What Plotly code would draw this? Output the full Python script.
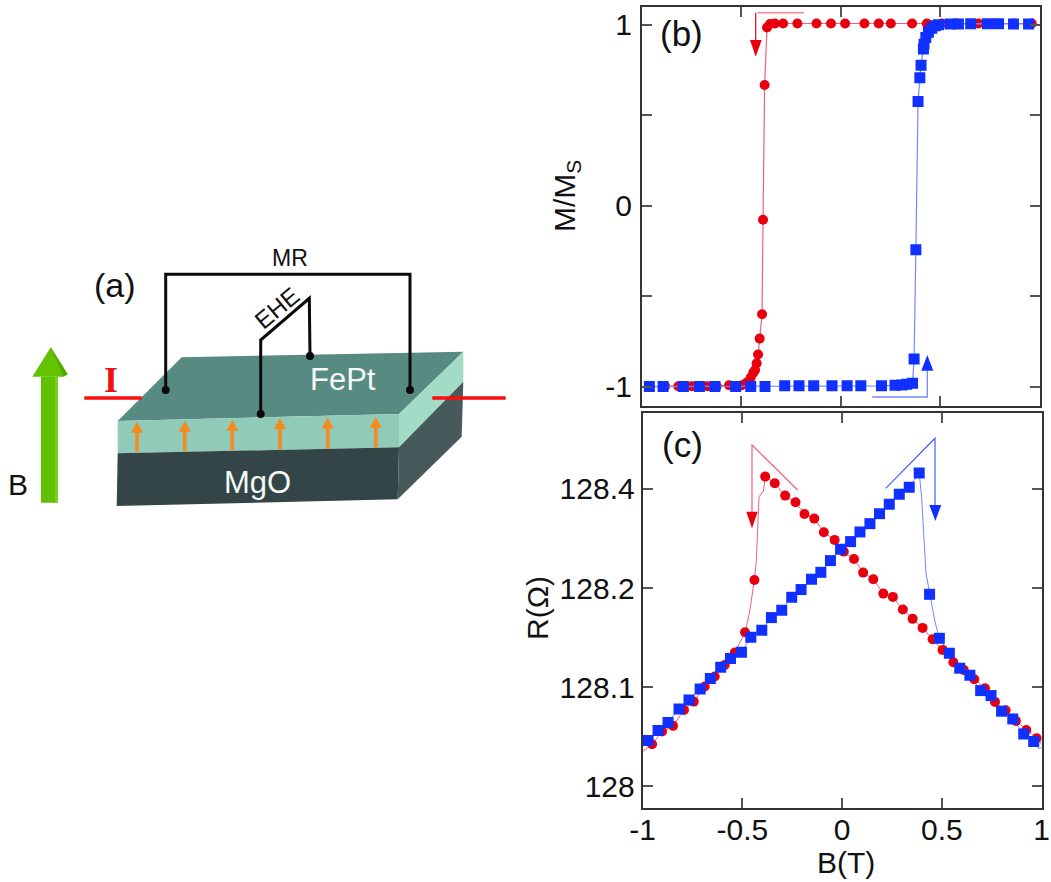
import plotly.graph_objects as go

W, H = 1051, 882

# ---- panel (b): M/Ms against B(T)
b_red_x = [-0.884, -0.817, -0.75, -0.671, -0.624, -0.562, -0.498, -0.473, -0.453, -0.44, -0.431, -0.423, -0.416,
           -0.408, -0.396, -0.391, -0.383, -0.371, -0.356, -0.331, -0.29, -0.218, -0.122, -0.049, 0.022, 0.119,
           0.191, 0.252, 0.359, 0.433, 0.508, 0.584, 0.693, 0.768, 0.869, 0.961]
b_red_y = [-0.996, -0.996, -0.996, -0.996, -0.996, -0.991, -0.991, -0.976, -0.948, -0.921, -0.906, -0.869, -0.821,
           -0.733, -0.599, -0.077, 0.667, 0.985, 1.004, 1.007, 1.007, 1.007, 1.007, 1.007, 1.007, 1.007,
           1.007, 1.007, 1.007, 1.007, 1.007, 1.007, 1.007, 1.007, 1.007, 1.007]
b_blue_x = [-0.963, -0.894, -0.792, -0.711, -0.633, -0.529, -0.453, -0.381, -0.282, -0.21, -0.136, -0.044, 0.032,
            0.101, 0.205, 0.273, 0.307, 0.332, 0.361, 0.369, 0.378, 0.389, 0.398, 0.404, 0.416, 0.419, 0.428,
            0.441, 0.458, 0.475, 0.492, 0.55, 0.592, 0.654, 0.738, 0.794, 0.869, 0.945]
b_blue_y = [-0.998, -0.998, -0.998, -0.998, -0.998, -0.998, -0.998, -0.998, -0.994, -0.994, -0.994, -0.994, -0.994,
            -0.994, -0.994, -0.991, -0.989, -0.985, -0.98, -0.845, -0.243, 0.576, 0.707, 0.777, 0.866, 0.893, 0.93,
            0.958, 0.98, 0.994, 1.0, 1.004, 1.004, 1.006, 1.006, 1.006, 1.004, 1.004]

# ---- panel (c): R against B(T); y is in tick-slot units, tick labels below
c_red_x = [-0.953, -0.903, -0.848, -0.793, -0.744, -0.689, -0.639, -0.589, -0.538, -0.487, -0.44, -0.386, -0.338,
           -0.286, -0.234, -0.189, -0.14, -0.092, -0.038, 0.008, 0.059, 0.105, 0.156, 0.206, 0.254, 0.304, 0.353,
           0.403, 0.453, 0.503, 0.557, 0.609, 0.662, 0.716, 0.766, 0.819, 0.871, 0.923, 0.975]
c_red_y = [128.0424, 128.0552, 128.0609, 128.077, 128.0854, 128.1006, 128.1107, 128.1224, 128.1349, 128.1554,
           128.2082, 128.3125, 128.3058, 128.2933, 128.2866, 128.2748, 128.2701, 128.2563, 128.2486, 128.2368,
           128.2294, 128.2156, 128.2089, 128.1944, 128.1911, 128.1783, 128.1689, 128.1598, 128.1483, 128.1376,
           128.1251, 128.1174, 128.108, 128.0989, 128.0851, 128.0767, 128.0659, 128.0568, 128.0484]
c_blue_x = [-0.973, -0.923, -0.873, -0.818, -0.768, -0.712, -0.661, -0.609, -0.56, -0.505, -0.458, -0.403, -0.355,
            -0.303, -0.253, -0.206, -0.154, -0.107, -0.059, -0.008, 0.042, 0.089, 0.139, 0.187, 0.236, 0.286, 0.336,
            0.386, 0.438, 0.487, 0.537, 0.589, 0.64, 0.694, 0.746, 0.799, 0.855, 0.91, 0.96]
c_blue_y = [128.0461, 128.0562, 128.0642, 128.078, 128.0871, 128.0982, 128.1086, 128.1201, 128.1288, 128.1352,
            128.1504, 128.1574, 128.1702, 128.1776, 128.1907, 128.1985, 128.2089, 128.2159, 128.2277, 128.2392,
            128.2469, 128.2566, 128.265, 128.2751, 128.2846, 128.2947, 128.3017, 128.3162, 128.1937, 128.1493,
            128.1342, 128.1191, 128.112, 128.0965, 128.0915, 128.0757, 128.0679, 128.0528, 128.0451]

# the thin measured curves of panel (c), which run through extra points between markers
c_red_line_x = [-1.0, -0.953, -0.903, -0.848, -0.793, -0.744, -0.689, -0.639, -0.589, -0.538, -0.487, -0.465, -0.44,
                -0.43, -0.417, -0.395, -0.386, -0.338, -0.286, -0.234, -0.189, -0.14, -0.092, -0.038, 0.008, 0.059,
                0.105, 0.156, 0.206, 0.254, 0.304, 0.353, 0.403, 0.453, 0.503, 0.557, 0.609, 0.662, 0.716, 0.766,
                0.819, 0.871, 0.923, 0.975, 1.0]
c_red_line_y = [128.035, 128.0424, 128.0552, 128.0609, 128.077, 128.0854, 128.1006, 128.1107, 128.1224, 128.1349,
                128.1554, 128.175, 128.2082, 128.2280, 128.2920, 128.2980, 128.3125, 128.3058, 128.2933, 128.2866,
                128.2748, 128.2701, 128.2563, 128.2486, 128.2368, 128.2294, 128.2156, 128.2089, 128.1944, 128.1911,
                128.1783, 128.1689, 128.1598, 128.1483, 128.1376, 128.1251, 128.1174, 128.108, 128.0989, 128.0851,
                128.0767, 128.0659, 128.0568, 128.0484, 128.042]
c_blue_line_x = [-1.0, -0.973, -0.923, -0.873, -0.818, -0.768, -0.712, -0.661, -0.609, -0.56, -0.505, -0.458, -0.403,
                 -0.355, -0.303, -0.253, -0.206, -0.154, -0.107, -0.059, -0.008, 0.042, 0.089, 0.139, 0.187, 0.236,
                 0.286, 0.336, 0.386, 0.398, 0.42, 0.438, 0.465, 0.487, 0.537, 0.589, 0.64, 0.694, 0.746, 0.799,
                 0.855, 0.91, 0.96, 0.985, 1.0]
c_blue_line_y = [128.043, 128.0461, 128.0562, 128.0642, 128.078, 128.0871, 128.0982, 128.1086, 128.1201, 128.1288,
                 128.1352, 128.1504, 128.1574, 128.1702, 128.1776, 128.1907, 128.1985, 128.2089, 128.2159, 128.2277,
                 128.2392, 128.2469, 128.2566, 128.265, 128.2751, 128.2846, 128.2947, 128.3017, 128.3162, 128.292,
                 128.215, 128.1937, 128.166, 128.1493, 128.1342, 128.1191, 128.112, 128.0965, 128.0915, 128.0757,
                 128.0679, 128.0528, 128.0451, 128.038, 128.039]

x_ticks = [-1, -0.5, 0, 0.5, 1]
x_labels = ["-1", "-0.5", "0", "0.5", "1"]
b_y_ticks = [-1, 0, 1]
b_y_labels = ["-1", "0", "1"]
b_y_minor = [-0.5, 0.5]
c_y_ticks = [128.0, 128.1, 128.2, 128.3]
c_y_labels = ["128", "128.1", "128.2", "128.4"]

RED, BLUE = "#e8000f", "#0f30ff"
RED_L, BLUE_L = "#f25f80", "#6f86ff"
FONT = "Liberation Sans"
INK = "#111111"


def fx(x):
    return x / W


def fy(y):
    return 1 - y / H


fig = go.Figure()

# data
fig.add_trace(go.Scatter(x=b_red_x, y=b_red_y, mode="lines+markers", xaxis="x", yaxis="y",
                         line=dict(color=RED_L, width=1.2), marker=dict(color=RED, size=10, symbol="circle")))
fig.add_trace(go.Scatter(x=b_blue_x, y=b_blue_y, mode="lines+markers", xaxis="x", yaxis="y",
                         line=dict(color=BLUE_L, width=1.2), marker=dict(color=BLUE, size=11, symbol="square")))
fig.add_trace(go.Scatter(x=c_red_line_x, y=c_red_line_y, mode="lines", xaxis="x2", yaxis="y2",
                         line=dict(color=RED_L, width=1)))
fig.add_trace(go.Scatter(x=c_blue_line_x, y=c_blue_line_y, mode="lines", xaxis="x2", yaxis="y2",
                         line=dict(color=BLUE_L, width=1)))
fig.add_trace(go.Scatter(x=c_red_x, y=c_red_y, mode="markers", xaxis="x2", yaxis="y2",
                         marker=dict(color=RED, size=10, symbol="circle")))
fig.add_trace(go.Scatter(x=c_blue_x, y=c_blue_y, mode="markers", xaxis="x2", yaxis="y2",
                         marker=dict(color=BLUE, size=11, symbol="square")))

shapes = []


def poly(points, fill, line=None, width=0, close=True):
    path = "M " + " L ".join(f"{fx(x):.5f} {fy(y):.5f}" for x, y in points) + (" Z" if close else "")
    shapes.append(dict(type="path", xref="paper", yref="paper", path=path,
                       fillcolor=fill if close else "rgba(0,0,0,0)",
                       line=dict(color=line if line else "rgba(0,0,0,0)", width=width)))


def wire(points, color, width):
    poly(points, None, color, width, close=False)


def dot(x, y, r, color):
    shapes.append(dict(type="circle", xref="paper", yref="paper", x0=fx(x - r), x1=fx(x + r),
                       y0=fy(y + r), y1=fy(y - r), fillcolor=color, line=dict(width=0)))


# panel (a): the sample
poly([(181.7, 357.3), (463.3, 351.7), (399, 414), (117.7, 421)], "#578a80")
poly([(117.7, 421), (399, 414), (399, 447.3), (117.7, 453.3)], "#90cbb9")
poly([(399, 414), (463.3, 351.7), (463.3, 381.7), (399, 447.3)], "#a2dcc7")
poly([(117.7, 453.3), (399, 447.3), (397.7, 499.3), (116.7, 506)], "#334546")
poly([(399, 447.3), (463.3, 381.7), (461.7, 436.7), (397.7, 499.3)], "#465a5b")

# field arrow
poly([(41, 376.7), (58, 376.7), (58, 502.7), (41, 502.7)], "#5fc000")
poly([(55, 376.7), (58, 376.7), (58, 502), (55, 502.7)], "#78d018")
poly([(32.3, 376.7), (50.7, 347.3), (67.7, 374.3), (63, 376.7)], "#62c400")
poly([(50.7, 347.3), (67.7, 374.3), (63.5, 376.7)], "#55a800")

# current leads
wire([(84.3, 398), (141.7, 398)], "#fb0d0d", 3.5)
wire([(432.3, 398), (505.7, 398)], "#fb0d0d", 3.5)

# orange moments
for ox, top, bottom in [(137, 421.7, 451.7), (184.7, 420.7, 451.0), (232.3, 419.7, 450.3),
                        (280, 418.0, 449.3), (327.7, 417.5, 448.7), (375.7, 416.7, 447.3)]:
    wire([(ox, top + 8), (ox, bottom)], "#f58a1f", 3.6)
    poly([(ox - 6, top + 11), (ox, top), (ox + 6, top + 11)], "#f58a1f")

# wires
wire([(165.7, 390), (165.7, 274.3), (410, 274.3), (410, 390)], "#0a0a0a", 3)
wire([(260.7, 414), (260.7, 340), (309.3, 298.3), (310, 356)], "#0a0a0a", 3)
for dx_, dy_ in [(165.7, 390), (410, 390), (260.7, 414), (310, 356)]:
    dot(dx_, dy_, 4, "#0a0a0a")

# sweep arrows of (b)
wire([(757.3, 12.7), (804, 12.7)], "#f58a8e", 1.5)
wire([(755.7, 12.7), (755.7, 42)], RED, 1.2)
poly([(750, 40), (761.7, 40), (755.7, 56.7)], RED)
wire([(872.3, 397), (927.3, 397), (927.3, 370)], BLUE_L, 1.3)
poly([(921.3, 370.7), (933.3, 370.7), (927.3, 355)], BLUE)

# sweep arrows of (c)
wire([(797.7, 490), (752, 445), (752, 513.3)], RED_L, 1.2)
poly([(746.3, 511.7), (757.7, 511.7), (752, 528.3)], RED)
wire([(885.7, 488.3), (935, 438.3), (935, 506.7)], "#3f5cff", 1.2)
poly([(929.3, 505), (941.3, 505), (935.3, 521)], BLUE)


def note(text, x, y, size, color=INK, family=FONT, angle=0):
    return dict(text=text, xref="paper", yref="paper", x=fx(x), y=fy(y), xanchor="center", yanchor="middle",
                showarrow=False, textangle=angle, font=dict(family=family, size=size, color=color))


annotations = [
    note("(a)", 115, 285, 34),
    note("(b)", 681, 33, 35),
    note("(c)", 682, 444, 35),
    note("MR", 290, 258, 23),
    note("EHE", 276, 308, 24, angle=-40),
    note("FePt", 343, 380, 31, color="#f4f9f7"),
    note("MgO", 257, 482, 31, color="#f4f9f7"),
    note("B", 18, 484, 30),
    note("<b>I</b>", 111, 380, 36, color="#f01010", family="Liberation Serif"),
    note("M/M<sub>S</sub>", 566, 196, 30, angle=-90),
    note("R(Ω)", 537, 608, 30, angle=-90),
    note("B(T)", 846, 862, 30),
]

axis_common = dict(showline=True, linecolor="#333333", linewidth=2, mirror="ticks", ticks="inside", ticklen=10,
                   tickwidth=1.5, tickcolor="#555555", showgrid=False, zeroline=False, tickmode="array",
                   automargin=False, tickfont=dict(family=FONT, size=30, color=INK))

fig.update_layout(
    width=W, height=H, margin=dict(l=0, r=0, t=0, b=0), paper_bgcolor="white", plot_bgcolor="white",
    showlegend=False, shapes=shapes, annotations=annotations,
    xaxis=dict(domain=[fx(642), fx(1039.5)], range=[-1, 1], tickvals=x_ticks, showticklabels=False,
               anchor="y", **axis_common),
    yaxis=dict(domain=[fy(405.6), fy(7)], range=[-1.103, 1.098], tickvals=b_y_ticks, ticktext=b_y_labels,
               anchor="x", ticklabelstandoff=2,
               minor=dict(tickmode="array", tickvals=b_y_minor, ticks="inside", ticklen=10, tickwidth=1.5,
                          tickcolor="#555555"),
               **axis_common),
    xaxis2=dict(domain=[fx(642.7), fx(1041.7)], range=[-1, 1], tickvals=x_ticks, ticktext=x_labels,
                anchor="y2", ticklabelstandoff=-6, **axis_common),
    yaxis2=dict(domain=[fy(808), fy(412.7)], range=[127.978, 128.377], tickvals=c_y_ticks, ticktext=c_y_labels,
                anchor="x2", **axis_common),
)

fig.write_html("out.html", config=dict(displayModeBar=False),
               post_script="document.body.style.margin='0';document.body.style.overflow='hidden';")
